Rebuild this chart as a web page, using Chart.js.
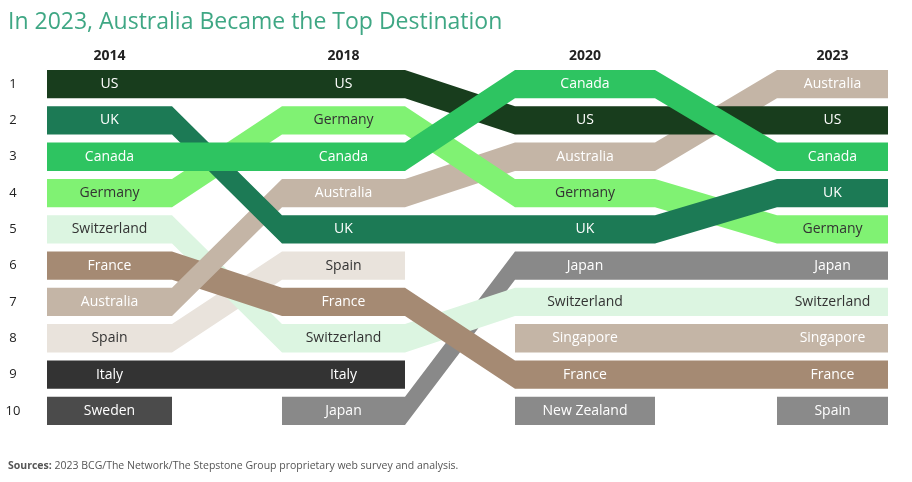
<!DOCTYPE html>
<html>
<head>
<meta charset="utf-8">
<script src="https://cdn.jsdelivr.net/npm/chart.js@4.4.1/dist/chart.umd.min.js"></script>
<style>
  body { margin: 0; background: #fff; font-family: 'Open Sans', sans-serif; }
  #wrap { position: relative; width: 912px; height: 482px; }
  #title { position: absolute; left: 8px; top: 4px; font-size: 23px; color: #3fa784; }
  #source { position: absolute; left: 8px; top: 458px; font-size: 10.5px; color: #555; }
  canvas { position: absolute; left: 0; top: 0; }
</style>
</head>
<body>
<div id="wrap">
  <canvas id="chart" width="912" height="482"></canvas>
  <div id="title">In 2023, Australia Became the Top Destination</div>
  <div id="source"><b>Sources:</b> 2023 BCG/The Network/The Stepstone Group proprietary web survey and analysis.</div>
</div>
<script>
// Data: country order per year, rank 1 first
const years = ['2014', '2018', '2020', '2023'];
const rank2014 = ['US', 'UK', 'Canada', 'Germany', 'Switzerland', 'France', 'Australia', 'Spain', 'Italy', 'Sweden'];
const rank2018 = ['US', 'Germany', 'Canada', 'Australia', 'UK', 'Spain', 'France', 'Switzerland', 'Italy', 'Japan'];
const rank2020 = ['Canada', 'US', 'Australia', 'Germany', 'UK', 'Japan', 'Switzerland', 'Singapore', 'France', 'New Zealand'];
const rank2023 = ['Australia', 'US', 'Canada', 'UK', 'Germany', 'Japan', 'Switzerland', 'Singapore', 'France', 'Spain'];
const rankLists = [rank2014, rank2018, rank2020, rank2023];
const rankTicks = [1, 2, 3, 4, 5, 6, 7, 8, 9, 10];

// Layout / style
const colStart = [47, 282, 515, 777];
const colEnd = [172, 405, 655, 888];
const halfBand = 0.39;
const colors = {
  'US': '#183d1d', 'UK': '#1c7a55', 'Canada': '#2ec461', 'Germany': '#80f273',
  'Switzerland': '#dcf5e1', 'France': '#a58a73', 'Australia': '#c4b5a6',
  'Spain': '#e9e3dc', 'Italy': '#333333', 'Sweden': '#4b4b4b', 'Japan': '#898989',
  'New Zealand': '#8a8a8a', 'Singapore': '#c4b5a6'
};
const overrideColors = { 'Spain|2023': '#8a8a8a' };
const darkText = { 'Germany': 1, 'Switzerland': 1, 'Spain': 1 };
// first drawn on top
const drawOrder = ['Canada', 'UK', 'US', 'Germany', 'Australia', 'France', 'Switzerland', 'Spain', 'Japan', 'Italy', 'Sweden', 'Singapore', 'New Zealand'];

// Build contiguous runs for each country
const runs = [];
drawOrder.forEach(country => {
  let current = null;
  years.forEach((yr, i) => {
    const idx = rankLists[i].indexOf(country);
    const color = overrideColors[country + '|' + yr] || colors[country];
    if (idx >= 0 && current && current.color === color) {
      current.steps.push({ col: i, rank: idx + 1 });
    } else if (idx >= 0) {
      current = { country, color, steps: [{ col: i, rank: idx + 1 }] };
      runs.push(current);
    } else {
      current = null;
    }
  });
});

const datasets = [];
runs.forEach(run => {
  const top = [], bottom = [];
  run.steps.forEach(s => {
    top.push({ x: colStart[s.col], y: s.rank - halfBand }, { x: colEnd[s.col], y: s.rank - halfBand });
    bottom.push({ x: colStart[s.col], y: s.rank + halfBand }, { x: colEnd[s.col], y: s.rank + halfBand });
  });
  datasets.push({ data: top, borderWidth: 0, pointRadius: 0, fill: false, tension: 0 });
  datasets.push({ data: bottom, borderWidth: 0, pointRadius: 0, fill: '-1', backgroundColor: run.color, tension: 0 });
});

const labelPlugin = {
  id: 'labels',
  afterDatasetsDraw(chart) {
    const { ctx, scales: { x, y } } = chart;
    ctx.save();
    ctx.textAlign = 'center';
    ctx.textBaseline = 'middle';
    ctx.font = "14px 'Open Sans', sans-serif";
    runs.forEach(run => {
      ctx.fillStyle = darkText[run.country] && run.color === colors[run.country] ? '#333' : '#fff';
      run.steps.forEach(s => {
        const cx = (x.getPixelForValue(colStart[s.col]) + x.getPixelForValue(colEnd[s.col])) / 2;
        ctx.fillText(run.country, cx, y.getPixelForValue(s.rank));
      });
    });
    ctx.fillStyle = '#222';
    ctx.font = "13px 'Open Sans', sans-serif";
    rankTicks.forEach(r => ctx.fillText(String(r), 13, y.getPixelForValue(r)));
    ctx.font = "bold 14px 'Open Sans', sans-serif";
    years.forEach((yr, i) => {
      const cx = (x.getPixelForValue(colStart[i]) + x.getPixelForValue(colEnd[i])) / 2;
      ctx.fillText(yr, cx, 56);
    });
    ctx.restore();
  }
};

new Chart(document.getElementById('chart'), {
  type: 'line',
  data: { datasets },
  options: {
    responsive: false,
    animation: false,
    layout: { padding: { top: 66, bottom: 53, left: 0, right: 0 } },
    plugins: { legend: { display: false }, tooltip: { enabled: false } },
    scales: {
      x: { type: 'linear', min: 0, max: 912, display: false },
      y: { type: 'linear', min: 0.5, max: 10.5, reverse: true, display: false }
    }
  },
  plugins: [labelPlugin]
});
</script>
</body>
</html>
